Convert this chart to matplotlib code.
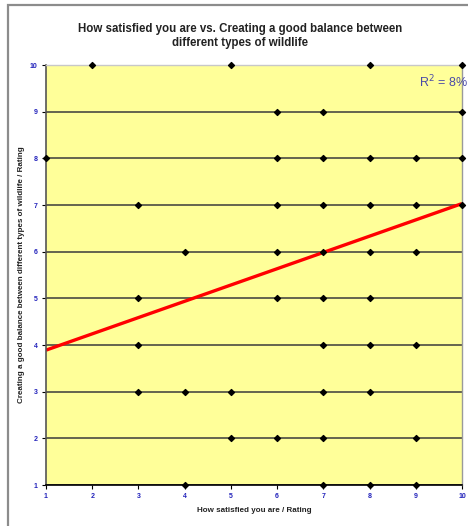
import matplotlib
matplotlib.use("Agg")
import matplotlib.pyplot as plt
from matplotlib.patches import Rectangle

plt.rcParams['font.family'] = ['Liberation Sans', 'DejaVu Sans']

# Data: x = How satisfied, y = Creating a good balance
points_by_y = {
    10: [2, 5, 8, 10],
    9: [6, 7, 10],
    8: [1, 6, 7, 8, 9, 10],
    7: [3, 6, 7, 8, 9, 10],
    6: [4, 6, 7, 8, 9],
    5: [3, 6, 7, 8],
    4: [3, 7, 8, 9],
    3: [3, 4, 5, 7, 8],
    2: [5, 6, 7, 9],
    1: [4, 7, 8, 9],
}
x_vals = [x for y, xs in points_by_y.items() for x in xs]
y_vals = [y for y, xs in points_by_y.items() for x in xs]

trend_x = [1, 10]
trend_y = [3.89, 7.03]

x_ticks = [1, 2, 3, 4, 5, 6, 7, 8, 9, 10]
y_ticks = [1, 2, 3, 4, 5, 6, 7, 8, 9, 10]

title = "How satisfied you are vs. Creating a good balance between\ndifferent types of wildlife"
xlabel = "How satisfied you are / Rating"
ylabel = "Creating a good balance between different types of wildlife / Rating"
r2_text = "R$^2$ = 8%"

fig = plt.figure(figsize=(4.68, 5.26), dpi=100)
fig.patch.set_facecolor('white')

# outer chart frame
fig.patches.append(Rectangle((8 / 468, -0.1), 1.2, 1 - 5 / 526 + 0.1, transform=fig.transFigure,
                             fill=False, edgecolor='#8c8c8c', linewidth=1.6, zorder=0))

ax = fig.add_axes([46 / 468, 1 - 485 / 526, (462 - 46) / 468, (485 - 65) / 526])
ax.set_facecolor('#FFFF99')
ax.set_xlim(1, 10)
ax.set_ylim(1, 10)

for yv in y_ticks:
    ax.axhline(yv, color='#3a3a3a', linewidth=1.1, zorder=1)

ax.plot(trend_x, trend_y, color='#FF0000', linewidth=2.4, zorder=2, solid_capstyle='butt')
ax.scatter(x_vals, y_vals, marker='D', s=9, color='black', zorder=3, clip_on=False)

ax.set_xticks(x_ticks)
ax.set_yticks(y_ticks)
ax.tick_params(axis='both', colors='black', labelcolor='#2222BB', labelsize=5,
               length=3, width=0.8, direction='out', pad=3)
for lab in ax.get_xticklabels() + ax.get_yticklabels():
    lab.set_fontweight('bold')

ax.spines['left'].set_color('#555555')
ax.spines['left'].set_linewidth(1.2)
ax.spines['bottom'].set_color('black')
ax.spines['bottom'].set_linewidth(1.2)
ax.spines['top'].set_color('#c8c8c8')
ax.spines['top'].set_linewidth(1.0)
ax.spines['right'].set_color('#9a9a9a')
ax.spines['right'].set_linewidth(1.0)

ax.text(419, 526 - 82, r2_text, transform=None, fontsize=9, color='#4B4BA8',
        ha='left', va='center')

fig.text(240 / 468, 1 - 36 / 526, title, ha='center', va='center', fontsize=8.3,
         fontweight='bold', color='#222222', linespacing=1.25)
fig.text(254 / 468, 1 - 510 / 526, xlabel, ha='center', va='center', fontsize=5.8,
         fontweight='bold', color='#222222')
fig.text(22 / 468, 1 - 275 / 526, ylabel, ha='center', va='center', rotation=90,
         fontsize=5.8, fontweight='bold', color='#222222')

fig.savefig('out.png', dpi=100)
